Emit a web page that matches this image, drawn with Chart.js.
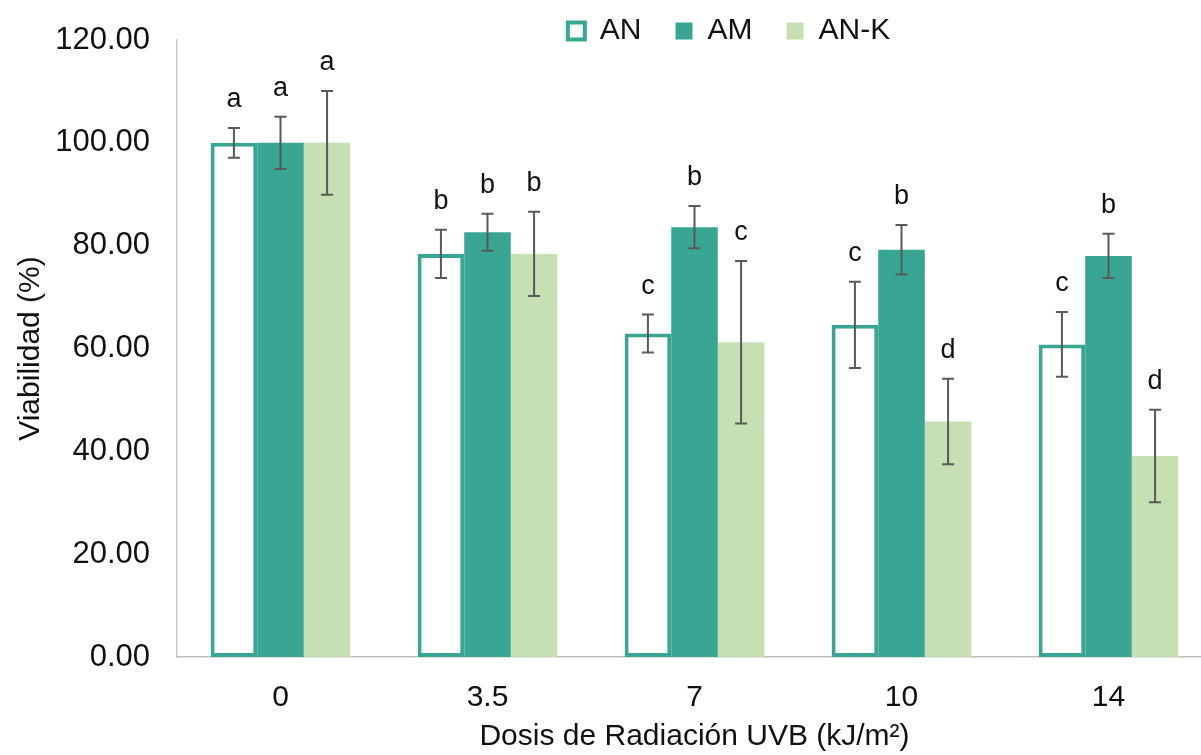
<!DOCTYPE html>
<html>
<head>
<meta charset="utf-8">
<script src="https://cdn.jsdelivr.net/npm/chart.js@4/dist/chart.umd.min.js"></script>
<style>
  html, body { margin: 0; padding: 0; background: #fff; overflow: hidden; }
  #wrap { width: 1212px; height: 755px; }
</style>
</head>
<body>
<div id="wrap"><canvas id="chart" width="1212" height="755"></canvas></div>
<script>
const categories = ['0', '3.5', '7', '10', '14'];
const seriesNames = ['AN', 'AM', 'AN-K'];
const anValues = [100, 78.4, 62.9, 64.6, 60.8];
const amValues = [100, 82.6, 83.6, 79.2, 78.0];
const ankValues = [100, 78.4, 61.2, 45.8, 39.1];
const anErrors = [2.9, 4.7, 3.7, 8.4, 6.3];
const amErrors = [5.1, 3.6, 4.1, 4.8, 4.3];
const ankErrors = [10.1, 8.2, 15.8, 8.3, 9.0];
const anLetters = ['a', 'b', 'c', 'c', 'c'];
const amLetters = ['a', 'b', 'b', 'b', 'b'];
const ankLetters = ['a', 'b', 'c', 'd', 'd'];
const yMin = 0, yMax = 120, yStep = 20;

const TEAL = '#38a692';
const LIGHT = '#c6e0b4';
const FONT = '"Liberation Sans", Arial, sans-serif';

const errorsBySet = [anErrors, amErrors, ankErrors];
const lettersBySet = [anLetters, amLetters, ankLetters];

// error bars + significance letters on top of the bars
const errorBarPlugin = {
  id: 'errorBars',
  afterDatasetsDraw(chart) {
    const ctx = chart.ctx;
    const y = chart.scales.y;
    ctx.save();
    chart.data.datasets.forEach((ds, i) => {
      const meta = chart.getDatasetMeta(i);
      meta.data.forEach((bar, j) => {
        const v = ds.data[j];
        const e = errorsBySet[i][j];
        const top = y.getPixelForValue(v + e);
        const bot = y.getPixelForValue(v - e);
        ctx.strokeStyle = '#595959';
        ctx.lineWidth = 2;
        ctx.beginPath();
        ctx.moveTo(bar.x, top); ctx.lineTo(bar.x, bot);
        ctx.moveTo(bar.x - 6, top); ctx.lineTo(bar.x + 6, top);
        ctx.moveTo(bar.x - 6, bot); ctx.lineTo(bar.x + 6, bot);
        ctx.stroke();
        ctx.fillStyle = '#111';
        ctx.font = '27px ' + FONT;
        ctx.textAlign = 'center';
        ctx.textBaseline = 'alphabetic';
        ctx.fillText(lettersBySet[i][j], bar.x, top - 21);
      });
    });
    ctx.restore();
  }
};

// nudge the legend to where the original sits
const legendShift = {
  id: 'legendShift',
  afterLayout(chart) {
    const lg = chart.legend;
    lg.left += 123; lg.right += 123;
    lg.top += 16; lg.bottom += 16;
  }
};

new Chart(document.getElementById('chart'), {
  type: 'bar',
  data: {
    labels: categories,
    datasets: [
      { label: seriesNames[0], data: anValues, backgroundColor: '#ffffff', borderColor: TEAL, borderWidth: 4, borderSkipped: false },
      { label: seriesNames[1], data: amValues, backgroundColor: TEAL, borderWidth: 0 },
      { label: seriesNames[2], data: ankValues, backgroundColor: LIGHT, borderWidth: 0 }
    ]
  },
  options: {
    responsive: false,
    animation: false,
    devicePixelRatio: 1,
    layout: { padding: { top: -38, left: 0, right: 0, bottom: 0 } },
    datasets: { bar: { categoryPercentage: 0.675, barPercentage: 1 } },
    plugins: {
      tooltip: { enabled: false },
      legend: {
        position: 'top',
        labels: {
          boxWidth: 17, boxHeight: 17, padding: 34, color: '#111',
          font: { family: FONT, size: 30, lineHeight: 1 }
        }
      }
    },
    scales: {
      x: {
        grid: { display: false, drawTicks: false },
        border: { color: '#bfbfbf', width: 1.5 },
        ticks: { color: '#111', padding: 23, font: { family: FONT, size: 30 } },
        title: { display: true, text: 'Dosis de Radiación UVB (kJ/m²)', color: '#111', font: { family: FONT, size: 30 }, padding: { top: 0, bottom: 0 } },
        afterFit(scale) { scale.height = 98; }
      },
      y: {
        min: yMin, max: yMax,
        grid: { display: false, drawTicks: false },
        border: { color: '#c8c8c8', width: 1.5 },
        ticks: { stepSize: yStep, color: '#111', padding: 27, font: { family: FONT, size: 31, lineHeight: 0.84 }, callback: v => v.toFixed(2) },
        title: { display: true, text: 'Viabilidad (%)', color: '#111', font: { family: FONT, size: 30 }, padding: { top: 13, bottom: 0 } },
        afterFit(scale) { scale.width = 177; }
      }
    }
  },
  plugins: [errorBarPlugin, legendShift]
});
</script>
</body>
</html>
